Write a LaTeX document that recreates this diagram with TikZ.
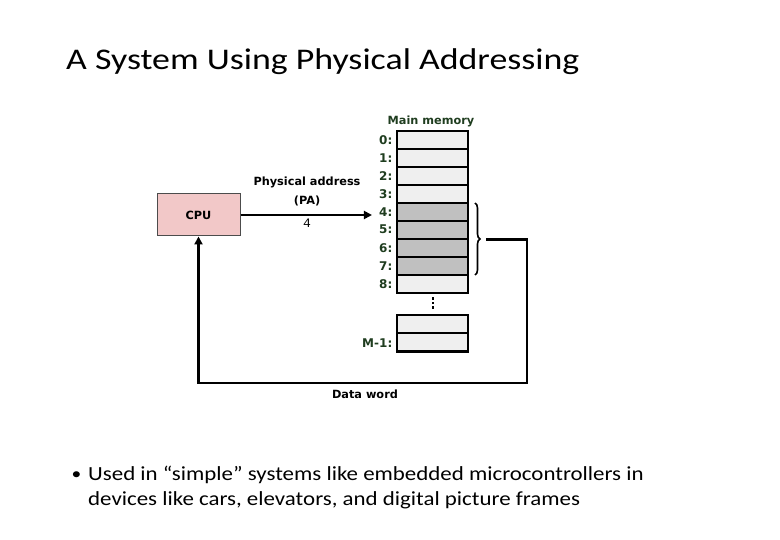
\documentclass[tikz,border=0pt]{standalone}
\usepackage{fontspec}
\setmainfont{Carlito}
\newfontfamily\titlefont[FakeStretch=1.195]{Carlito}
\newfontfamily\bodyfont[FakeStretch=1.145]{Carlito}
\newfontfamily\dvfont{DejaVu Sans}
\newfontfamily\monofont{Liberation Mono}
\usetikzlibrary{arrows.meta,decorations.pathreplacing}
\definecolor{memgreen}{HTML}{1F3D1F}
\definecolor{cpupink}{HTML}{F2C8C8}
\definecolor{celllight}{HTML}{EFEFEF}
\definecolor{cellgray}{HTML}{C0C0C0}
\begin{document}
\begin{tikzpicture}[x=1pt,y=-1pt,
  cell/.style={draw=black, line width=2.3pt, fill=celllight, minimum width=71.6pt, minimum height=18pt, inner sep=0pt},
  grcell/.style={cell, fill=cellgray},
  idx/.style={anchor=east, inner sep=0pt, text=memgreen, font=\dvfont\bfseries\fontsize{12}{14}\selectfont},
  lbl/.style={inner sep=0pt, font=\dvfont\bfseries\fontsize{11.3}{13}\selectfont},
  conn/.style={line width=2.6pt, draw=black},
  tip/.style={-{Triangle[length=8pt,width=8pt]}},
  dot/.style={fill=black, draw=none}
]
\useasboundingbox[fill=white] (0,0) rectangle (780,540);
% title
\node[anchor=base west, inner sep=0pt] (title) at (66,70) {\titlefont\fontsize{30}{36}\selectfont A System Using Physical Addressing};
% CPU
\node[draw=black!70, line width=1pt, fill=cpupink, minimum width=83pt, minimum height=42pt, inner sep=0pt, font=\dvfont\bfseries\fontsize{11.3}{13}\selectfont] (cpu) at (198.5,215) {CPU};
% memory cells
\foreach \i in {0,...,8}{
  \node[cell] (c\i) at (432.5,139.7+18*\i) {};
  \node[idx] (l\i) at (392.5,139.7+18*\i) {\i:};
}
\foreach \i in {4,...,7}{
  \node[grcell] (g\i) at (432.5,139.7+18*\i) {};
}
\node[lbl, text=memgreen] (mm) at (431,121) {Main memory};
% vertical dots
\foreach \yy in {298.5,303,307.5}{
  \fill[dot] (431.8,\yy-1.3) rectangle (434.4,\yy+1.3);
}
\node[cell, minimum height=18.3pt] (m1a) at (432.5,324.2) {};
\node[cell, minimum height=18.3pt] (m1b) at (432.5,342.5) {};
\node[idx] (lm) at (392.5,342.7) {M-1:};
% PA labels
\node[lbl] (pa1) at (307,182.7) {Physical address};
\node[lbl] (pa2) at (307,200.7) {(PA)};
\node[inner sep=0pt, font=\monofont\fontsize{13}{15}\selectfont] (four) at (307,223.5) {4};
\draw[conn, tip] (cpu.east) -- ([xshift=-7pt]cpu.east -| l4.west);
% brace
\coordinate (bt1) at (475,203);
\coordinate (bt2) at (475,275);
\draw[line width=1.6pt, decorate, decoration={brace, amplitude=5pt}] (bt1) -- (bt2);
\coordinate (bt) at (486,239.3);
\coordinate (br) at (527,239.3);
\coordinate (bb) at (527,383);
\coordinate (bl) at (198.5,383);
\draw[conn, tip] (bt) -- (br) -- (bb) -- (bl) -- (cpu.south);
\node[lbl] (dw) at (365,394) {Data word};
% bullet
\node[anchor=base west, inner sep=0pt] (bul) at (71.5,479) {\bodyfont\fontsize{17}{25}\selectfont •};
\node[anchor=base west, inner sep=0pt] (t1) at (88,480) {\bodyfont\fontsize{20}{25}\selectfont Used in “simple” systems like embedded microcontrollers in};
\node[anchor=base west, inner sep=0pt] (t2) at (88,505) {\bodyfont\fontsize{20}{25}\selectfont devices like cars, elevators, and digital picture frames};
\end{tikzpicture}
\end{document}
